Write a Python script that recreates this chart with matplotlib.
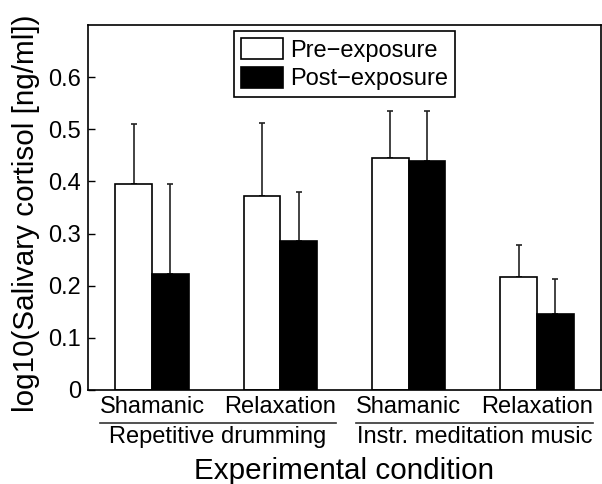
import numpy as np
import matplotlib
matplotlib.use('Agg')
import matplotlib.pyplot as plt
from matplotlib.lines import Line2D

plt.rcParams['font.family'] = ['Liberation Sans', 'DejaVu Sans']

# values
conditions = ['Shamanic', 'Relaxation', 'Shamanic', 'Relaxation']
groups = ['Repetitive drumming', 'Instr. meditation music']
pre_mean = [0.395, 0.372, 0.444, 0.216]
pre_err = [0.116, 0.140, 0.092, 0.063]
post_mean = [0.222, 0.285, 0.439, 0.146]
post_err = [0.174, 0.094, 0.097, 0.067]

fig = plt.figure(figsize=(6.02, 4.84), dpi=100)
ax = fig.add_axes([88 / 602, 1 - 390 / 484, 513 / 602, 365 / 484])

x = np.arange(1, len(conditions) + 1)
w = 0.2857
fs = 17

ax.bar(x - w / 2, pre_mean, w, color='white', edgecolor='black', linewidth=1.2,
       label='Pre\u2212exposure', zorder=2)
ax.bar(x + w / 2, post_mean, w, color='black', edgecolor='black', linewidth=1.2,
       label='Post\u2212exposure', zorder=2)

# only the upper half of the error bars is drawn
ax.errorbar(x - w / 2, pre_mean, yerr=[np.zeros(4), pre_err], fmt='none',
            ecolor='#222222', elinewidth=1.2, capsize=2.5, capthick=1.2, zorder=1)
ax.errorbar(x + w / 2, post_mean, yerr=[np.zeros(4), post_err], fmt='none',
            ecolor='#222222', elinewidth=1.2, capsize=2.5, capthick=1.2, zorder=1)

ax.set_xlim(0.5, 4.5)
ax.set_ylim(0, 0.7)
ax.set_yticks([0, 0.1, 0.2, 0.3, 0.4, 0.5, 0.6])
ax.set_yticklabels(['0', '0.1', '0.2', '0.3', '0.4', '0.5', '0.6'])
ax.set_xticks(x)
ax.set_xticklabels(conditions)
ax.tick_params(axis='y', direction='in', length=5, width=1, labelsize=fs, pad=5)
ax.tick_params(axis='x', length=0, labelsize=fs, pad=4)
for s in ax.spines.values():
    s.set_linewidth(1.2)

leg = ax.legend(loc='upper center', bbox_to_anchor=(0.5, 0.983), fontsize=fs,
                fancybox=False, framealpha=1, edgecolor='black',
                handlelength=1.8, handleheight=1.0, handletextpad=0.3,
                labelspacing=0.2, borderpad=0.3, borderaxespad=0)
leg.get_frame().set_linewidth(1.2)

# underline each pair of labels and put the group name below
fig.canvas.draw()
r = fig.canvas.get_renderer()
labels = ax.get_xticklabels()
W, H = fig.bbox.width, fig.bbox.height
line_y = 1 - 422.7 / 484
for gi, name in enumerate(groups):
    b0 = labels[2 * gi].get_window_extent(r)
    b1 = labels[2 * gi + 1].get_window_extent(r)
    x0, x1 = b0.x0 / W, b1.x1 / W
    fig.add_artist(Line2D([x0, x1], [line_y, line_y], color='#333333', lw=1.2))
    fig.text((x0 + x1) / 2, 1 - 442.7 / 484, name, ha='center', va='baseline',
             fontsize=fs)

fig.text((88 + 601) / 2 / 602, 1 - 479 / 484, 'Experimental condition',
         ha='center', va='baseline', fontsize=21.3)
fig.text(26 / 602, 1 - 213 / 484, 'log10(Salivary cortisol [ng/ml])',
         rotation=90, ha='center', va='center', fontsize=21.3)

fig.savefig('out.png', dpi=100)
